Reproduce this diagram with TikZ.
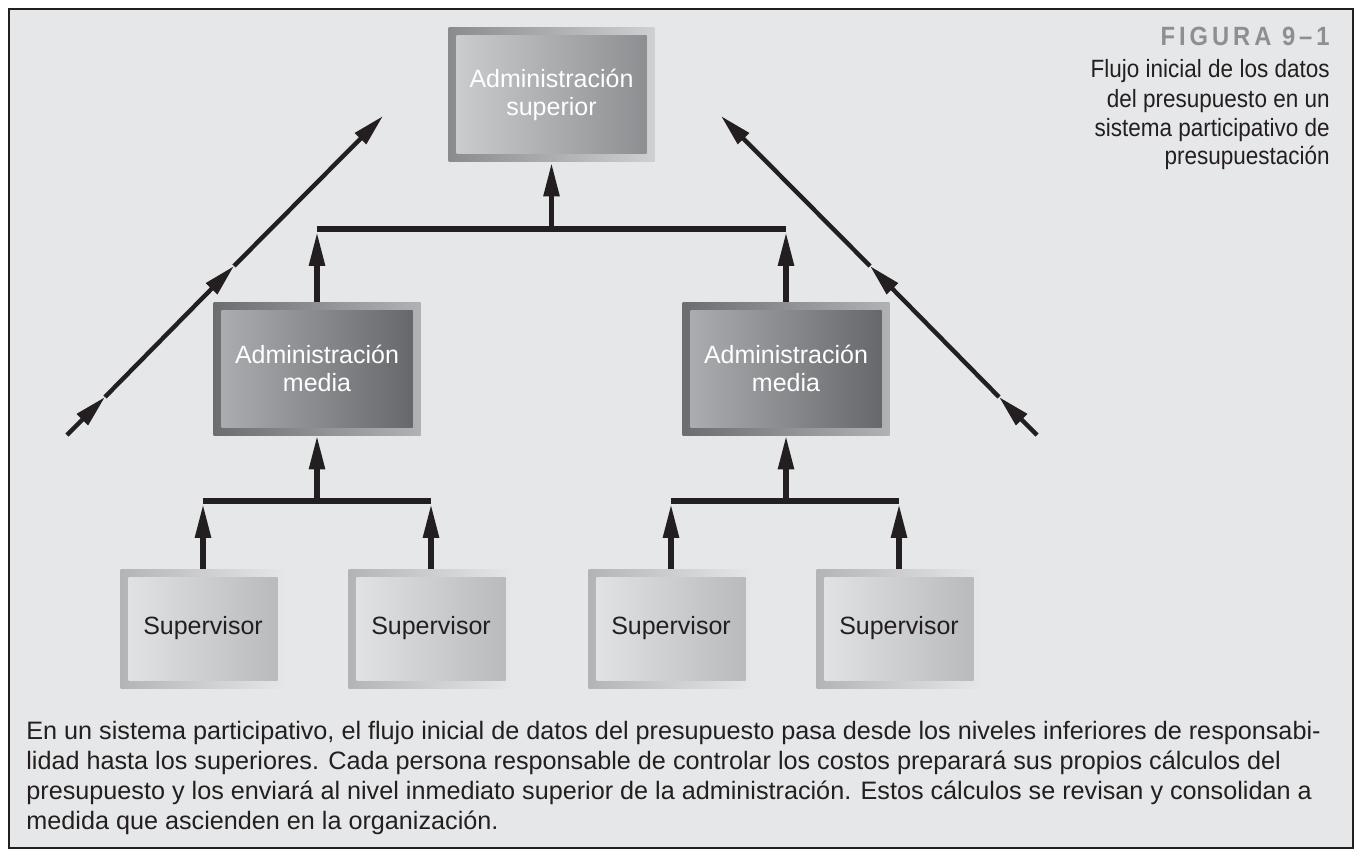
\documentclass[tikz,border=0pt]{standalone}
\usepackage{fontspec}
\setmainfont{Liberation Sans}
\newfontfamily\condfont[FakeStretch=0.9]{Liberation Sans}
\newfontfamily\figfont[FakeStretch=0.9,LetterSpace=15]{Liberation Sans}
\usetikzlibrary{arrows.meta,positioning}

\definecolor{panel}{HTML}{E6E7E8}
\definecolor{ink}{HTML}{231F20}
\definecolor{figgray}{HTML}{8D8F92}
\definecolor{supout}{HTML}{B3B4B6}
\definecolor{supinl}{HTML}{E3E4E5}
\definecolor{supinr}{HTML}{B7B8BA}
\definecolor{midoutl}{HTML}{6B6D71}
\definecolor{midoutr}{HTML}{B0B2B5}
\definecolor{midinl}{HTML}{AEAFB2}
\definecolor{midinr}{HTML}{636569}
\definecolor{topoutl}{HTML}{898B8E}
\definecolor{topoutr}{HTML}{CFD0D2}
\definecolor{topinl}{HTML}{CDCECF}
\definecolor{topinr}{HTML}{8A8C8F}

\tikzset{
  shadedbox/.style n args={4}{left color=#1, right color=#2,
    path picture={\shade[left color=#3, right color=#4]
      ([shift={(4pt,-4pt)}]path picture bounding box.north west) rectangle
      ([shift={(-4pt,4pt)}]path picture bounding box.south east);}},
  supbox/.style={shadedbox={supout}{panel}{supinl}{supinr},
    minimum width=82.5pt, minimum height=59.5pt, inner sep=0pt,
    text=ink, font=\fontsize{12.5}{14}\selectfont},
  midbox/.style={shadedbox={midoutl}{midoutr}{midinl}{midinr},
    minimum width=103.5pt, minimum height=66.5pt, inner sep=0pt, align=center,
    text=white, font=\fontsize{12.5}{14}\selectfont},
  topbox/.style={shadedbox={topoutl}{topoutr}{topinl}{topinr},
    minimum width=103pt, minimum height=67pt, inner sep=0pt, align=center,
    text=white, font=\fontsize{12.5}{14}\selectfont},
  flow/.style={draw=ink, line width=2.75pt, -{Triangle[length=17pt,width=7.5pt]}},
  tobar/.style={flow, shorten >=1.4pt},
  bar/.style={draw=ink, line width=2.75pt},
  diag/.style={draw=ink, line width=2.2pt, -{Triangle[length=16pt,width=7.5pt]}}
}

\begin{document}
\begin{tikzpicture}[x=0.5pt,y=-0.5pt]
\useasboundingbox (0,0) rectangle (1358,850);
\fill[white] (0,0) rectangle (1358,850);
\draw[ink, line width=1pt, fill=panel] (9,9) rectangle (1353,848);

% boxes
\node[topbox] (top) at (551.5,95) {Administración\\superior};
\node[midbox] (m1) at (317,368.5) {Administración\\media};
\node[midbox] (m2) at (786,368.5) {Administración\\media};
\node[supbox] (s1) at (203,628.5) {Supervisor};
\node[supbox] (s2) at (431,628.5) {Supervisor};
\node[supbox] (s3) at (671,628.5) {Supervisor};
\node[supbox] (s4) at (899,628.5) {Supervisor};

% joints
\coordinate (j0) at (551.5,229);
\coordinate (j1) at (317,501);
\coordinate (j2) at (786,501);

\draw[bar] (s1 |- j1) -- (s2 |- j1);
\draw[tobar] (s1) -- (s1 |- j1);
\draw[tobar] (s2) -- (s2 |- j1);
\draw[flow] (j1) -- (m1);
\draw[bar] (s3 |- j2) -- (s4 |- j2);
\draw[tobar] (s3) -- (s3 |- j2);
\draw[tobar] (s4) -- (s4 |- j2);
\draw[flow] (j2) -- (m2);
\draw[bar] (m1 |- j0) -- (m2 |- j0);
\draw[tobar] (m1) -- (m1 |- j0);
\draw[tobar] (m2) -- (m2 |- j0);
\draw[flow] (j0) -- (top);

% diagonal flows
\coordinate (l0) at (67,435);
\coordinate (l1) at (105,397);
\coordinate (l2) at (234,266);
\coordinate (l3) at (383,116);
\coordinate (r0) at (1037,435);
\coordinate (r1) at (999,397);
\coordinate (r2) at (870,266);
\coordinate (r3) at (721,116);
\draw[diag] (l0) -- (l1);
\draw[diag] (l1) -- (l2);
\draw[diag] (l2) -- (l3);
\draw[diag] (r0) -- (r1);
\draw[diag] (r1) -- (r2);
\draw[diag] (r2) -- (r3);

% title
\node[anchor=base east, inner sep=0pt, text=figgray, font=\figfont\bfseries\fontsize{13.2}{15}\selectfont] (fig) at (1330,46) {FIGURA 9–1};
\node[anchor=base east, inner sep=0pt, align=right, text=ink, font=\condfont\fontsize{12.5}{14.5}\selectfont] (title) at (1330,165)
  {Flujo inicial de los datos\\del presupuesto en un\\sistema participativo de\\presupuestación};

% caption
\node[anchor=base west, inner sep=0pt, align=left, text=ink, font=\fontsize{12.6}{15}\selectfont] (caption) at (26,829)
  {En un sistema participativo, el flujo inicial de datos del presupuesto pasa desde los niveles inferiores de responsabi-\\
   lidad hasta los superiores. Cada persona responsable de controlar los costos preparará sus propios cálculos del\\
   presupuesto y los enviará al nivel inmediato superior de la administración. Estos cálculos se revisan y consolidan a\\
   medida que ascienden en la organización.};
\end{tikzpicture}
\end{document}
